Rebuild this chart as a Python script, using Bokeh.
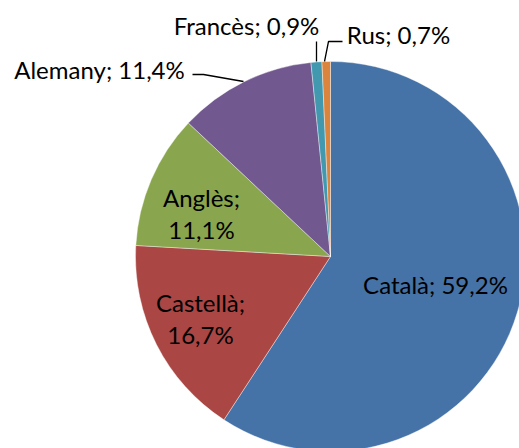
from bokeh.plotting import figure
from bokeh.models import Range1d, ColumnDataSource
from bokeh.core.properties import value
from bokeh.embed import file_html
from bokeh.resources import INLINE
import numpy as np

# Data
languages = ["Català", "Castellà", "Anglès", "Alemany", "Francès", "Rus"]
percents = [59.2, 16.7, 11.1, 11.4, 0.9, 0.7]
colors = ["#4572A7", "#AA4643", "#89A54E", "#71588F", "#4198AF", "#DB843D"]
label_texts = ["Català; 59,2%", "Castellà;\n16,7%", "Anglès;\n11,1%",
               "Alemany; 11,4%", "Francès; 0,9%", "Rus; 0,7%"]

W, H = 519, 448
OX, OY = 0, 448  # screen -> data


def sx(x):
    return x - OX


def sy(y):
    return OY - y


p = figure(width=W, height=H, output_backend="svg", toolbar_location=None,
           x_range=Range1d(0, W), y_range=Range1d(0, H), min_border=0)
p.axis.visible = False
p.grid.visible = False
p.outline_line_color = None
p.background_fill_color = "white"

vals = np.array(percents, dtype=float)
frac = vals / vals.sum()
cum = np.concatenate([[0.0], np.cumsum(frac)])
start = np.pi / 2 - 2 * np.pi * cum[:-1]
end = np.pi / 2 - 2 * np.pi * cum[1:]

cx, cy, r = sx(330), sy(256), 195
src = ColumnDataSource(dict(start=start, end=end, color=colors,
                            x=[cx] * len(vals), y=[cy] * len(vals)))
p.wedge(x="x", y="y", radius=r, start_angle="start", end_angle="end",
        direction="clock", fill_color="color", line_color="white",
        line_width=0.4, source=src)

# Leader lines (screen coords)
leaders = [
    [(192, 74), (203, 74), (243, 81)],      # Alemany
    [(316, 41), (316, 61)],                 # Francès
    [(342, 41), (328, 41), (324, 61)],      # Rus
]
for pts in leaders:
    p.line([sx(a) for a, b in pts], [sy(b) for a, b in pts],
           line_color="black", line_width=1.3)

# Labels: (center x, vertical middle of first line)
label_pos = [(435, 284), (200, 302), (201, 197), (99, 69), (246, 25), (398, 34)]
lx, ly, lt = [], [], []
for txt, (x, y) in zip(label_texts, label_pos):
    for i, line in enumerate(txt.split("\n")):
        lx.append(sx(x))
        ly.append(sy(y + 32 * i))
        lt.append(line)
p.text(x=lx, y=ly, text=lt, text_align="center", text_baseline="middle",
       text_font=value("Lato"), text_font_size="24px", text_color="black")

open("out.html", "w").write(file_html(p, INLINE))
